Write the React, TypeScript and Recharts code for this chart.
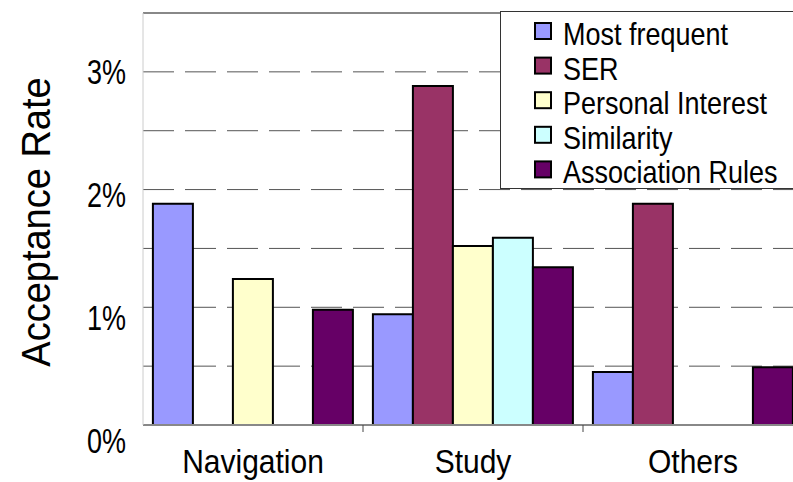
import React from 'react';
import { BarChart, Bar, XAxis, YAxis, CartesianGrid, Legend, ReferenceLine } from 'recharts';

const categories = ['Navigation', 'Study', 'Others'];
const mostFrequent = [1.88, 0.94, 0.45];
const ser = [0, 2.88, 1.88];
const personalInterest = [1.24, 1.52, 0];
const similarity = [0, 1.59, 0];
const associationRules = [0.98, 1.34, 0.49];
const yTicks = [0, 0.5, 1, 1.5, 2, 2.5, 3, 3.5];
const yLabels = [0, 1, 2, 3];

const seriesNames = ['Most frequent', 'SER', 'Personal Interest', 'Similarity', 'Association Rules'];
const seriesKeys = ['mf', 'ser', 'pi', 'sim', 'ar'];
const seriesColors = ['#9999FF', '#993366', '#FFFFCC', '#CCFFFF', '#660066'];

const data = categories.map((c, i) => ({
  name: c,
  mf: mostFrequent[i],
  ser: ser[i],
  pi: personalInterest[i],
  sim: similarity[i],
  ar: associationRules[i],
}));

const FONT = '"Liberation Sans", Arial, sans-serif';

const XTick = (props: any) => {
  const { x, y, payload, index } = props;
  const off = payload && payload.offset != null ? payload.offset : 0;
  return (
    <g>
      <text
        transform={`translate(${x},${y + 48}) scale(1,1.1)`}
        textAnchor="middle"
        fontSize={30}
        fill="#000"
        fontFamily={FONT}
      >
        {payload.value}
      </text>
      {index > 0 && (
        <line x1={x - off} x2={x - off} y1={y} y2={y + 7} stroke="#444" strokeWidth={1} />
      )}
    </g>
  );
};

const YTick = (props: any) => {
  const { x, y, payload } = props;
  const v = payload.value;
  if (!yLabels.includes(v)) return <g />;
  const dy = (3 - v) * 5.4;
  return (
    <text
      transform={`translate(${x - 17},${y + dy}) scale(1,1.3)`}
      textAnchor="end"
      dominantBaseline="central"
      fontSize={27}
      fill="#000"
      fontFamily={FONT}
    >
      {v + '%'}
    </text>
  );
};

const YLabel = () => (
  <text
    transform="translate(50,222) rotate(-90) scale(1,1.08)"
    textAnchor="middle"
    fontSize={38}
    fill="#000"
    fontFamily={FONT}
  >
    Acceptance Rate
  </text>
);

const LegendBox = (props: any) => {
  const payload = [...(props.payload || [])].sort(
    (a: any, b: any) => seriesNames.indexOf(a.value) - seriesNames.indexOf(b.value)
  );
  return (
    <svg width={310} height={178} style={{ display: 'block' }}>
      <rect x={0.5} y={0.5} width={309} height={177} fill="#fff" stroke="#333" strokeWidth={1} />
      {payload.map((p: any, i: number) => {
        const base = 34 + i * 34.6;
        return (
          <g key={p.value}>
            <rect x={35} y={base - 22} width={16} height={16} fill={p.color} stroke="#000" strokeWidth={2} />
            <text
              transform={`translate(63,${base}) scale(1,1.15)`}
              fontSize={27}
              fill="#000"
              fontFamily={FONT}
            >
              {p.value}
            </text>
          </g>
        );
      })}
    </svg>
  );
};

export default function App() {
  return (
    <div style={{ position: 'absolute', left: 0, top: 0, width: 793, height: 482, overflow: 'hidden', background: '#fff' }}>
      <BarChart
        width={830}
        height={482}
        data={data}
        margin={{ top: 13, right: 27, bottom: 0, left: 0 }}
        barGap={0}
        barCategoryGap="4.5%"
      >
        <CartesianGrid vertical={false} stroke="#555" strokeDasharray="31 11" />
        <XAxis
          dataKey="name"
          height={57}
          interval={0}
          tickSize={0}
          tickMargin={0}
          tickLine={false}
          axisLine={{ stroke: '#888', strokeWidth: 2 }}
          tick={<XTick />}
        />
        <YAxis
          width={143}
          domain={[0, 3.5]}
          ticks={yTicks}
          interval={0}
          tickSize={0}
          tickMargin={0}
          tickLine={false}
          axisLine={{ stroke: '#ccc', strokeWidth: 1 }}
          tick={<YTick />}
          label={<YLabel />}
        />
        <ReferenceLine y={3.5} stroke="#888" strokeWidth={2} />
        {seriesKeys.map((k, i) => (
          <Bar
            key={k}
            dataKey={k}
            name={seriesNames[i]}
            fill={seriesColors[i]}
            stroke="#000"
            strokeWidth={2}
            isAnimationActive={false}
          />
        ))}
        <Legend
          layout="horizontal"
          verticalAlign="middle"
          align="center"
          wrapperStyle={{ left: 500, top: 11, width: 310, height: 178 }}
          content={<LegendBox />}
        />
      </BarChart>
    </div>
  );
}
